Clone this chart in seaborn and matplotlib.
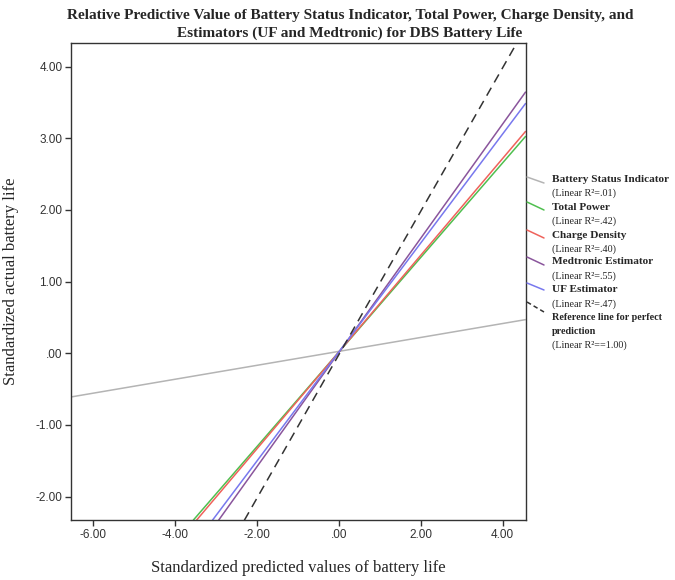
import matplotlib.pyplot as plt
import pandas as pd
import seaborn as sns
from matplotlib.lines import Line2D

series_names = [
    "Battery Status Indicator",
    "Total Power",
    "Charge Density",
    "Medtronic Estimator",
    "UF Estimator",
    "Reference line for perfect prediction",
]
r2_labels = [
    "(Linear R²=.01)",
    "(Linear R²=.42)",
    "(Linear R²=.40)",
    "(Linear R²=.55)",
    "(Linear R²=.47)",
    "(Linear R²==1.00)",
]
x_start = [-6.55, -3.56, -3.48, -2.94, -3.09, -2.31]
y_start = [-0.61, -2.33, -2.33, -2.33, -2.33, -2.33]
x_end = [4.57, 4.57, 4.57, 4.57, 4.57, 4.35]
y_end = [0.47, 3.03, 3.10, 3.65, 3.49, 4.33]

x_ticks = [-6, -4, -2, 0, 2, 4]
y_ticks = [-2, -1, 0, 1, 2, 3, 4]

title_lines = [
    "Relative Predictive Value of Battery Status Indicator, Total Power, Charge Density, and",
    "Estimators (UF and Medtronic) for DBS Battery Life",
]

colors = ["#b4b4b4", "#4fbf4f", "#ef625b", "#8a559c", "#7878ee", "#333333"]
dashes = [(1, 0)] * 5 + [(6, 4)]


def tick_label(v):
    s = f"{v:.2f}"
    return s.replace("0.", ".") if v == 0 else s


def main():
    sns.set_theme(style="white")
    plt.rcParams["font.family"] = ["Liberation Serif", "DejaVu Serif"]

    rows = []
    for name, x0, y0, x1, y1 in zip(series_names, x_start, y_start, x_end, y_end):
        rows.append({"series": name, "x": x0, "y": y0})
        rows.append({"series": name, "x": x1, "y": y1})
    df = pd.DataFrame(rows)

    W, H = 675, 580
    fig = plt.figure(figsize=(6.75, 5.8), dpi=100)
    ax = fig.add_axes([0.105, 0.103, 0.674, 0.823])

    sns.lineplot(
        data=df, x="x", y="y", hue="series", style="series",
        hue_order=series_names, style_order=series_names,
        palette=colors, dashes=dashes, linewidth=1.1,
        legend=False, ax=ax, sort=False,
    )

    ax.set_xlim(-6.55, 4.57)
    ax.set_ylim(-2.33, 4.33)
    ax.set_xticks(x_ticks)
    ax.set_yticks(y_ticks)
    ax.set_xticklabels([tick_label(v) for v in x_ticks],
                       family="Liberation Sans", fontsize=8.5, color="#333333")
    ax.set_yticklabels([tick_label(v) for v in y_ticks],
                       family="Liberation Sans", fontsize=8.5, color="#333333")
    ax.tick_params(direction="out", length=4, width=1, color="#333333",
                   bottom=True, left=True, pad=2)
    for spine in ax.spines.values():
        spine.set_color("#333333")
        spine.set_linewidth(1)

    ax.set_xlabel("Standardized predicted values of battery life", fontsize=12, labelpad=14)
    ax.set_ylabel("Standardized actual battery life", fontsize=12, labelpad=12)

    for y, line in zip([19, 37], title_lines):
        fig.text(350 / W, 1 - y / H, line, ha="center", va="baseline",
                 fontsize=11, fontweight="bold")

    # SPSS-style legend to the right of the frame, with diagonal sample lines
    name_y = [179, 207, 235, 262, 290, 318]
    sample_y = [(177, 183), (202, 210), (230, 238), (257, 265), (283, 290), (302, 312)]
    for i, name in enumerate(series_names):
        ya, yb = sample_y[i]
        fig.add_artist(Line2D([527 / W, 544 / W], [1 - ya / H, 1 - yb / H],
                              color=colors[i], linewidth=1.1,
                              linestyle="--" if i == 5 else "-",
                              dashes=(3, 2) if i == 5 else (None, None)))
        if i < 5:
            fig.text(552 / W, 1 - name_y[i] / H, name, fontsize=8.1,
                     fontweight="bold", va="center", ha="left")
            fig.text(552 / W, 1 - (name_y[i] + 14) / H, r2_labels[i], fontsize=7.3,
                     va="center", ha="left")
        else:
            fig.text(552 / W, 1 - name_y[i] / H, "Reference line for perfect", fontsize=7.3,
                     fontweight="bold", va="center", ha="left")
            fig.text(552 / W, 1 - (name_y[i] + 13) / H, "prediction", fontsize=7.3,
                     fontweight="bold", va="center", ha="left")
            fig.text(552 / W, 1 - (name_y[i] + 27) / H, r2_labels[i], fontsize=7.3,
                     va="center", ha="left")

    fig.savefig("out.png", dpi=100)
    plt.close(fig)


if __name__ == "__main__":
    main()
